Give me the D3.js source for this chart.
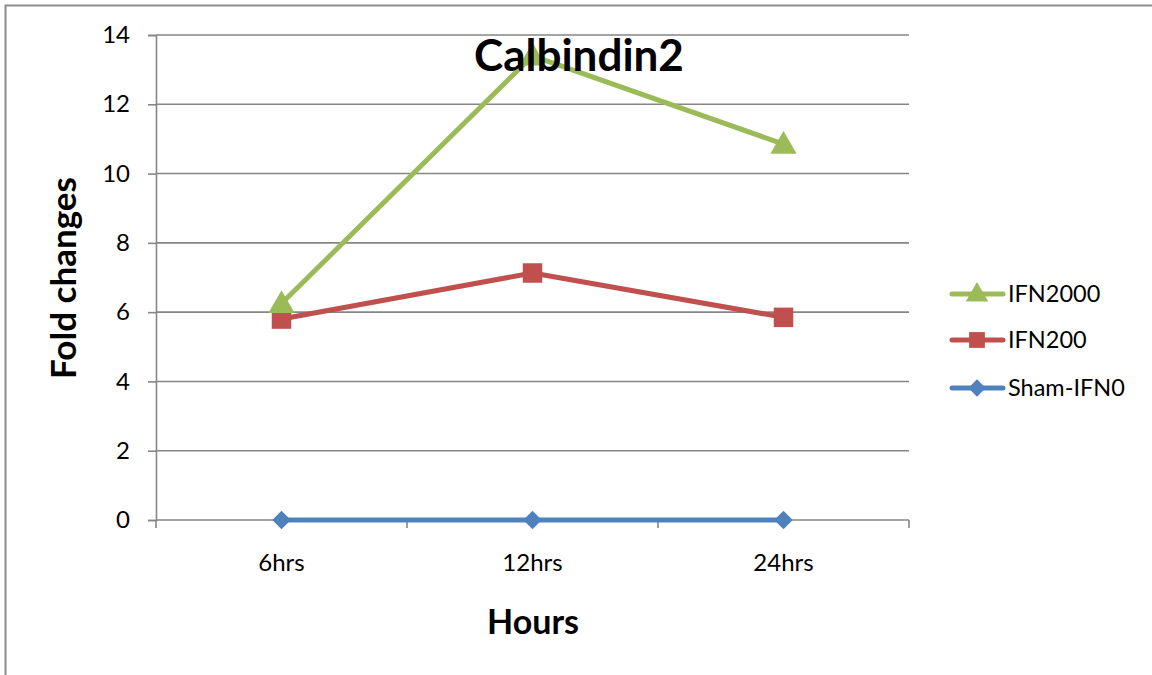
<!DOCTYPE html>
<html><head><meta charset="utf-8">
<script src="https://cdn.jsdelivr.net/npm/d3@7"></script>
<style>body{margin:0;background:#fff}svg{display:block}text{font-family:Lato,"Open Sans",sans-serif}</style>
</head><body><svg id="c" width="1152" height="675"></svg>
<script>
const categories = ["6hrs","12hrs","24hrs"];
const seriesNames = ["IFN2000","IFN200","Sham-IFN0"];
const ifn2000 = [6.25, 13.4, 10.85];
const ifn200 = [5.8, 7.13, 5.85];
const sham = [0, 0, 0];
const yTicks = [0,2,4,6,8,10,12,14];
const colors = ["#9BBB59","#C0504D","#4F81BD"];
const symbols = [d3.symbolTriangle, d3.symbolSquare, d3.symbolSquare];
const rotations = [0, 0, 45];
const series = [ifn2000, ifn200, sham];

const svg = d3.select("#c");
svg.append("rect").attr("x",5.5).attr("y",5.5).attr("width",1300).attr("height",1000)
  .attr("fill","#fff").attr("stroke","#8c8c8c").attr("stroke-width",2);

const L=156, R=909, T=35, B=520;
const x = d3.scaleBand().domain(categories).range([L,R]);
const y = d3.scaleLinear().domain([0,14]).range([B,T]);

svg.append("g").selectAll("line").data(yTicks).join("line")
  .attr("x1",L).attr("x2",R).attr("y1",d=>y(d)).attr("y2",d=>y(d))
  .attr("stroke","#868686").attr("stroke-width",1.6);

const yAxis = svg.append("g").attr("transform",`translate(${L},0)`)
  .call(d3.axisLeft(y).tickValues(yTicks).tickSize(8).tickPadding(18));
yAxis.select(".domain").attr("stroke","#868686").attr("stroke-width",1.6);
yAxis.selectAll(".tick line").attr("stroke","#868686").attr("stroke-width",1.6);
yAxis.selectAll("text").attr("font-size",24).attr("font-family","Lato, sans-serif").attr("fill","#000");

const xAxis = svg.append("g").attr("transform",`translate(0,${B})`)
  .call(d3.axisBottom(x).tickSize(0).tickPadding(34));
xAxis.select(".domain").remove();
xAxis.selectAll("text").attr("font-size",24).attr("font-family","Lato, sans-serif").attr("fill","#000");
const bounds = [L, ...categories.map(c=>x(c)+x.bandwidth())];
svg.append("g").selectAll("line").data(bounds).join("line")
  .attr("x1",d=>d).attr("x2",d=>d).attr("y1",B).attr("y2",B+8)
  .attr("stroke","#868686").attr("stroke-width",1.6);

const cx = c => x(c)+x.bandwidth()/2;
const line = d3.line().x((d,i)=>cx(categories[i])).y(d=>y(d));
[2,1,0].forEach(k=>{
  svg.append("path").datum(series[k]).attr("d",line)
    .attr("fill","none").attr("stroke",colors[k]).attr("stroke-width",5).attr("stroke-linejoin","round");
});
[2,1,0].forEach(k=>{
  const sym = d3.symbol().type(symbols[k]).size(k===0?300:k===1?380:170);
  svg.append("g").selectAll("path").data(series[k]).join("path")
    .attr("transform",(d,i)=>`translate(${cx(categories[i])},${y(d)+(k===0?2:0)}) rotate(${rotations[k]})`)
    .attr("d",sym).attr("fill",colors[k]);
});

svg.append("text").attr("x",579).attr("y",71).attr("text-anchor","middle")
  .attr("font-size",44).attr("font-weight","bold").text("Calbindin2");
svg.append("text").attr("transform","translate(76,278) rotate(-90)").attr("text-anchor","middle")
  .attr("font-size",35).attr("font-weight","bold").text("Fold changes");
svg.append("text").attr("x",533).attr("y",634).attr("text-anchor","middle")
  .attr("font-size",34).attr("font-weight","bold").text("Hours");

const legY = [294, 340, 388];
seriesNames.forEach((n,k)=>{
  const g = svg.append("g").attr("transform",`translate(0,${legY[k]})`);
  g.append("line").attr("x1",952).attr("x2",1003).attr("y1",0).attr("y2",0)
    .attr("stroke",colors[k]).attr("stroke-width",5).attr("stroke-linecap","round");
  g.append("path").attr("transform",`translate(977,${k===0?1:0}) rotate(${rotations[k]})`)
    .attr("d",d3.symbol().type(symbols[k]).size(k===0?220:k===1?250:150)).attr("fill",colors[k]);
  g.append("text").attr("x",1008).attr("y",8).attr("font-size",23.5).text(n);
});
</script></body></html>
